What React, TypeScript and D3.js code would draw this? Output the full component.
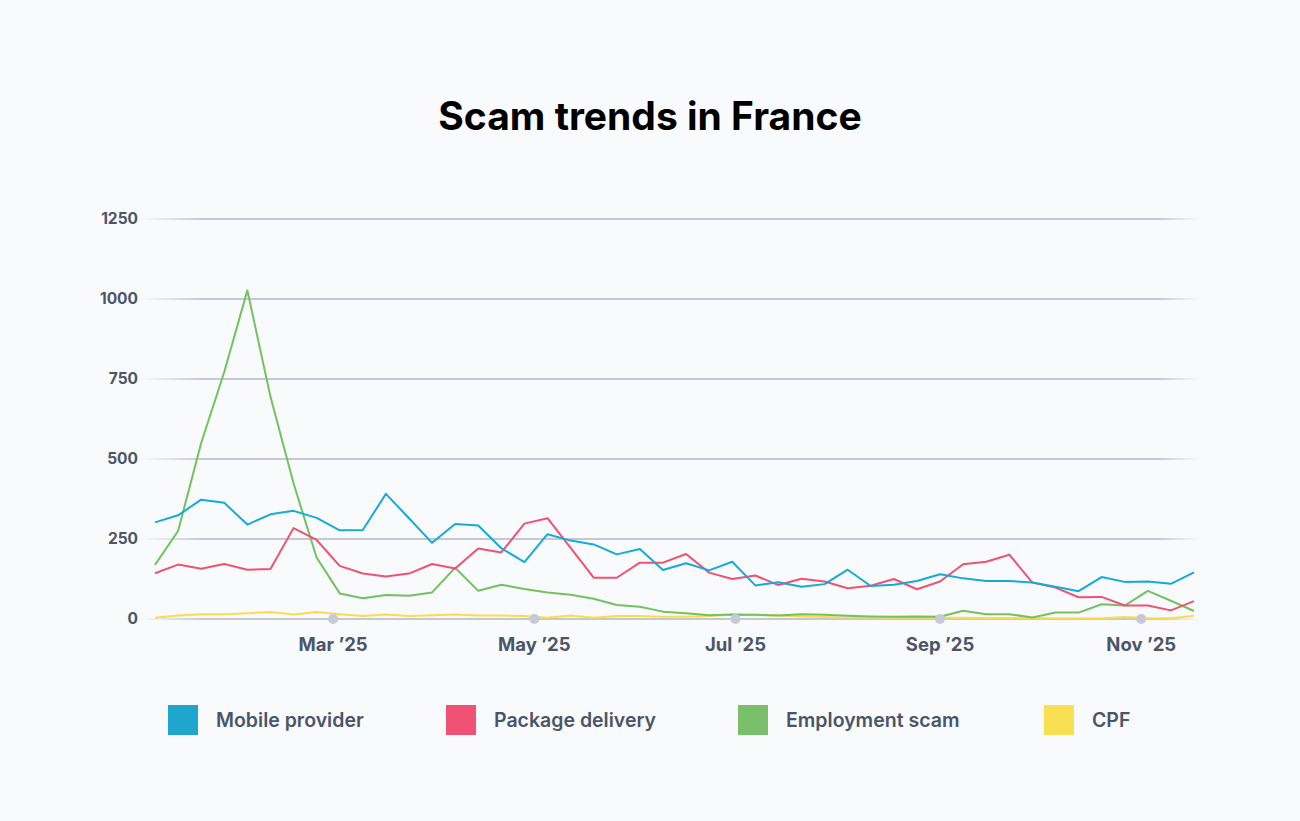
import React from "react";
import * as d3 from "d3";

const startDate = "2025-01-06";
const weekCount = 46;

const mobileProvider = [302, 324, 373, 363, 295, 327, 338, 316, 277, 278, 391, 315, 238, 297, 292, 221, 178, 265, 245, 233, 202, 219, 153, 174, 152, 179, 105, 115, 101, 109, 154, 103, 107, 119, 140, 127, 119, 119, 114, 101, 87, 131, 116, 117, 110, 146];
const packageDelivery = [143, 170, 157, 172, 154, 156, 284, 247, 166, 142, 133, 142, 172, 158, 220, 208, 298, 315, 222, 129, 129, 176, 176, 203, 145, 125, 136, 106, 126, 117, 96, 104, 125, 93, 117, 171, 179, 201, 114, 98, 68, 69, 42, 42, 27, 56];
const employmentScam = [169, 275, 550, 772, 1027, 695, 424, 192, 80, 65, 75, 73, 83, 160, 88, 107, 94, 83, 76, 63, 44, 38, 23, 18, 12, 14, 13, 11, 15, 13, 10, 8, 7, 8, 7, 26, 15, 15, 5, 20, 20, 46, 42, 88, 57, 25];
const cpf = [4, 11, 15, 15, 18, 22, 14, 22, 15, 9, 14, 9, 12, 14, 11, 11, 9, 4, 11, 4, 9, 9, 7, 7, 9, 13, 12, 11, 8, 6, 5, 5, 4, 4, 4, 4, 3, 3, 3, 2, 2, 2, 6, 2, 2, 10];

const seriesNames = ["Mobile provider", "Package delivery", "Employment scam", "CPF"];
const seriesColors = ["#13acd8", "#ef5272", "#74c162", "#fbdc4e"];
const legendColors = ["#1ea6cf", "#f05276", "#7abf6c", "#f9e052"];
const yTicks = [0, 250, 500, 750, 1000, 1250];
const xTickDates = ["2025-03-01", "2025-05-01", "2025-07-01", "2025-09-01", "2025-11-01"];
const xTickLabels = ["Mar \u201925", "May \u201925", "Jul \u201925", "Sep \u201925", "Nov \u201925"];

const W = 1300;
const H = 821;
const FONT = "Inter, 'Open Sans', sans-serif";
const TEXT = "#4b5568";

export default function App() {
  const parse = d3.utcParse("%Y-%m-%d");
  const start = parse(startDate) as Date;
  const dates = d3.range(weekCount).map((i) => d3.utcWeek.offset(start, i));
  const allSeries = [mobileProvider, packageDelivery, employmentScam, cpf];

  const x = d3.scaleUtc().domain([dates[0], dates[dates.length - 1]]).range([155, 1194]);
  const y = d3.scaleLinear().domain([0, 1250]).range([619, 219]);

  const line = d3
    .line<number>()
    .x((_, i) => x(dates[i]))
    .y((d) => y(d));

  const legendX = [168, 446, 738, 1044];

  return (
    <div style={{ position: "absolute", left: 0, top: 0, width: W, height: H, background: "#f9fafc" }}>
      <svg width={W} height={H} style={{ display: "block", fontFamily: FONT }}>
        <defs>
          <linearGradient id="gridFade" gradientUnits="userSpaceOnUse" x1={140} x2={1200} y1={0} y2={0}>
            <stop offset="0" stopColor="#c3c8d4" stopOpacity={0} />
            <stop offset="0.06" stopColor="#c3c8d4" stopOpacity={1} />
            <stop offset="0.96" stopColor="#c3c8d4" stopOpacity={1} />
            <stop offset="1" stopColor="#c3c8d4" stopOpacity={0} />
          </linearGradient>
        </defs>
        <rect x={0} y={0} width={W} height={H} fill="#f9fafc" />
        <text x={650} y={130} textAnchor="middle" fontSize={39} fontWeight={700} fill="#000">
          Scam trends in France
        </text>

        {yTicks.map((t) => (
          <g key={t}>
            <rect x={140} y={y(t) - 1} width={1060} height={2} fill="url(#gridFade)" />
            <text x={138} y={y(t) + 5} textAnchor="end" fontSize={15.5} fontWeight={700} fill={TEXT}>
              {t}
            </text>
          </g>
        ))}

        {allSeries
          .slice()
          .reverse()
          .map((s, ri) => {
            const i = allSeries.length - 1 - ri;
            return (
              <path
                key={seriesNames[i]}
                d={line(s) || ""}
                fill="none"
                stroke={seriesColors[i]}
                strokeWidth={2}
                strokeLinejoin="round"
              />
            );
          })}

        {xTickDates.map((d, i) => {
          const px = x(parse(d) as Date);
          return (
            <g key={d}>
              <circle cx={px} cy={619} r={5} fill="#c6cad5" />
              <text x={px} y={651} textAnchor="middle" fontSize={18.5} fontWeight={700} fill={TEXT}>
                {xTickLabels[i]}
              </text>
            </g>
          );
        })}

        {seriesNames.map((n, i) => (
          <g key={n}>
            <rect x={legendX[i]} y={705} width={30} height={30} fill={legendColors[i]} />
            <text x={legendX[i] + 48} y={727} fontSize={19.5} fontWeight={600} fill={TEXT}>
              {n}
            </text>
          </g>
        ))}
      </svg>
    </div>
  );
}
